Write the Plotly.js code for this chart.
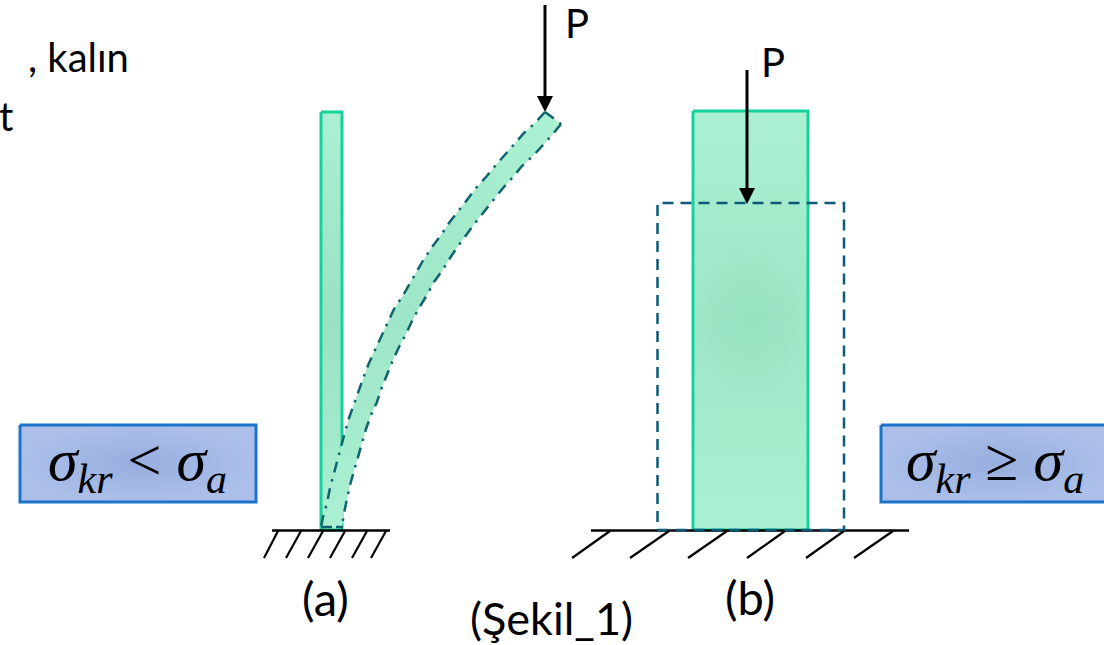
<!DOCTYPE html>
<html><head><meta charset="utf-8">
<script src="https://cdn.plot.ly/plotly-3.0.1.min.js"></script>
<style>html,body{margin:0;padding:0;background:#fff}#c{width:1104px;height:645px}</style>
</head><body><div id="c"></div>
<script>
// Outlines, in picture units
const columnAX = [321, 342, 342, 321, 321];
const columnAY = [112, 112, 530, 530, 112];
const beamLeftX = [545,535,524,515,504,495,486,476,467,458,449,441,432,424,417,409,402,394,388,381,375,369,364,359,354,349,345,341,337,334,330,327,323,321];
const beamLeftY = [112,123,133,143,155,166,177,188,200,211,223,235,247,259,271,284,297,309,322,336,349,363,376,390,404,418,432,447,460,474,488,503,517,527];
const beamRightX = [561,553,543,533,522,513,503,494,484,475,467,458,450,442,434,427,419,412,406,399,393,387,382,377,371,366,362,358,354,350,347,344,342];
const beamRightY = [124,134,145,156,166,177,188,199,211,223,234,246,258,271,282,295,308,321,334,347,360,374,387,402,415,429,443,457,471,485,499,513,527];
const columnBX = [693, 808, 808, 693, 693];
const columnBY = [111, 111, 530, 530, 111];
const glowX = [695, 806, 806, 695, 695];
const glowY = [240, 240, 400, 400, 240];
const dashedBX = [657.5, 844, 844, 657.5, 657.5];
const dashedBY = [530, 530, 203, 203, 530];
const groundAX = [272, 390];
const groundBX = [591, 909];
const groundY = [530.5, 530.5];
const hatchATop = [278, 301, 323, 345, 367, 386];
const hatchABottom = [264, 286, 308, 330, 352, 371];
const hatchBTop = [610, 669, 727, 785, 844, 893];
const hatchBBottom = [572, 630, 688, 747, 806, 854];
const hatchAY = [531, 558];
const hatchBY = [531, 558];
const arrowAX = [545, 545], arrowAY = [5, 100];
const headAX = [537, 553, 545, 537], headAY = [96, 96, 112, 96];
const arrowBX = [747, 747], arrowBY = [70, 192];
const headBX = [739, 755, 747, 739], headBY = [188, 188, 204, 188];
const box1X = [20, 256, 256, 20, 20], boxY = [425, 425, 502, 502, 425];
const box2X = [881, 1110, 1110, 881, 881];

const GREEN = '#14D29C', TEAL = '#0F6470', NAVY = '#0C5A78', BLUE = '#1B74C9';
const vert = {type:'vertical', colorscale:[[0,'#ABF0D2'],[0.5,'#98E2C2'],[1,'#ABF0D2']]};
const vertSoft = {type:'vertical', colorscale:[[0,'#ABF0D2'],[0.5,'#9DE6C7'],[1,'#ABF0D2']]};
const glow = {type:'radial', colorscale:[[0,'rgba(146,224,190,0.7)'],[1,'rgba(146,224,190,0)']]};
const boxGrad = {type:'radial', colorscale:[[0,'#97AEDF'],[1,'#ABBFE9']]};

function poly(x,y,fill,line,w,grad){
  const t={x,y,mode:w?'lines':'none',type:'scatter',fill:'toself',fillcolor:fill,hoverinfo:'skip',
    line:{color:line||fill,width:w||0,shape:'linear'}};
  if(grad) t.fillgradient=grad;
  return t;
}
function line(x,y,color,w,dash){
  return {x,y,mode:'lines',type:'scatter',hoverinfo:'skip',line:{color,width:w,dash:dash||'solid',shape:'linear'}};
}
const DASHDOT='11px,7px,2.5px,7px';
const traces=[];
traces.push(poly(columnAX,columnAY,'#A6ECCE',GREEN,3,vert));
const beamX=beamLeftX.concat(beamRightX.slice().reverse()), beamY=beamLeftY.concat(beamRightY.slice().reverse());
traces.push(poly(beamX.concat(beamX[0]),beamY.concat(beamY[0]),'#A6ECCE',null,0,vertSoft));
traces.push(line(beamLeftX,beamLeftY,TEAL,2.5,DASHDOT));
traces.push(line(beamRightX,beamRightY,TEAL,2.5,DASHDOT));
traces.push(line([beamLeftX[0],beamRightX[0]],[beamLeftY[0],beamRightY[0]],TEAL,2.5,DASHDOT));
traces.push(line([321,343],[527,527],TEAL,2.5,'11px,4px'));
traces.push(poly(columnBX,columnBY,'#A6ECCE',GREEN,3,vertSoft));
traces.push(poly(glowX,glowY,'rgba(146,224,190,0.3)',null,0,glow));
traces.push(line(groundAX,groundY,'#000',2.6));
traces.push(line(groundBX,groundY,'#000',2.6));
traces.push(line(dashedBX,dashedBY,NAVY,2.5,'11px,7px'));
hatchATop.forEach((t,i)=>traces.push(line([t,hatchABottom[i]],hatchAY,'#000',2.2)));
hatchBTop.forEach((t,i)=>traces.push(line([t,hatchBBottom[i]],hatchBY,'#000',2.2)));
traces.push(line(arrowAX,arrowAY,'#000',3));
traces.push(poly(headAX,headAY,'#000'));
traces.push(line(arrowBX,arrowBY,'#000',3));
traces.push(poly(headBX,headBY,'#000'));
traces.push(poly(box1X,boxY,'#A3B8E6',BLUE,3,boxGrad));
traces.push(poly(box2X,boxY,'#A3B8E6',BLUE,3,boxGrad));

const TXT="Lato, 'Open Sans', sans-serif", MATH="'Liberation Serif', serif";
function label(text,x,y,anchor,size,font,xshift){
  return {text,x,y,xref:'x',yref:'y',xanchor:anchor||'left',yanchor:'middle',showarrow:false,xshift:xshift||0,
    font:{family:font||TXT,size:size||40,color:'#000'}};
}
const annotations=[
  label(', kalın',26,57,'left',40),
  label('t',0,116,'left',40,TXT,-3),
  label('P',563,23,'left',40),
  label('P',759,62,'left',40),
  label('(a)',325,598,'center',47),
  label('(b)',750,597,'center',47),
  label('(Şekil_1)',551,618,'center',45),
  label('<i>σ<sub>kr</sub></i>&nbsp;&lt;&nbsp;<i>σ<sub>a</sub></i>',137,464,'center',60,MATH),
  label('<i>σ<sub>kr</sub></i>&nbsp;≥&nbsp;<i>σ<sub>a</sub></i>',995,464,'center',60,MATH)
];
Plotly.newPlot('c',traces,{
  width:1104,height:645,margin:{l:0,r:0,t:0,b:0},showlegend:false,
  paper_bgcolor:'#fff',plot_bgcolor:'#fff',
  xaxis:{range:[0,1104],visible:false,fixedrange:true},
  yaxis:{range:[645,0],visible:false,fixedrange:true},
  annotations
},{displayModeBar:false,staticPlot:true});
</script></body></html>
